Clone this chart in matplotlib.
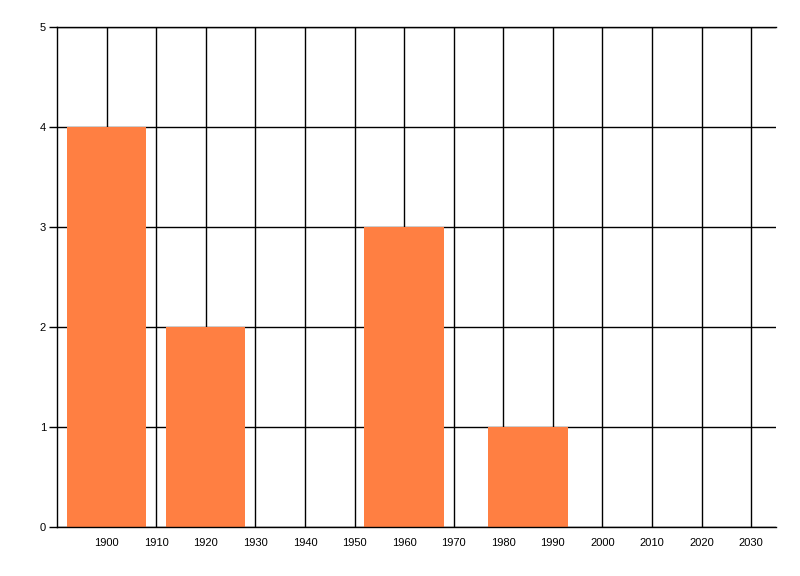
import matplotlib.pyplot as plt

plt.rcParams['font.family'] = ['Liberation Sans', 'DejaVu Sans']

years = [1900, 1920, 1960, 1985]
counts = [4, 2, 3, 1]
x_ticks = list(range(1900, 2031, 10))
y_ticks = [0, 1, 2, 3, 4, 5]

fig = plt.figure(figsize=(8, 5.76), dpi=100)
ax = fig.add_axes([0.0713, 0.085, 0.8987, 0.868])

ax.bar(years, counts, width=16, color='#FF7F42', zorder=2)

ax.set_xlim(1890, 2035)
ax.set_ylim(0, 5)
ax.set_xticks(x_ticks)
ax.set_yticks(y_ticks)
ax.grid(True, color='black', linewidth=1.0, zorder=0)
ax.set_axisbelow(True)

ax.spines['right'].set_visible(False)
for side in ['left', 'bottom', 'top']:
    ax.spines[side].set_color('black')
    ax.spines[side].set_linewidth(1.0)
ax.spines['bottom'].set_zorder(3)

ax.tick_params(axis='x', length=0, pad=8, labelsize=8)
ax.tick_params(axis='y', length=6, width=1.0, pad=2, labelsize=8)

fig.savefig('out.png', dpi=100)
